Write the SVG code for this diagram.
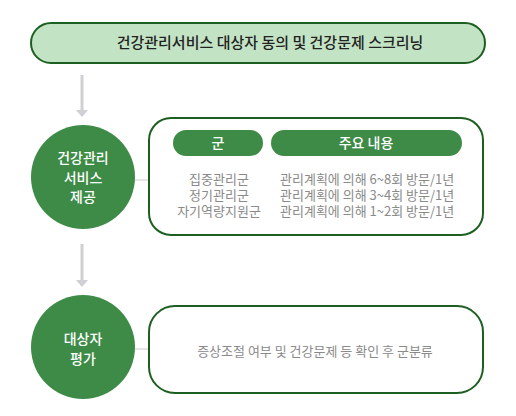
<svg xmlns="http://www.w3.org/2000/svg" width="516" height="416" viewBox="0 0 516 416">
<defs>
<style>
.k{font-family:"Noto Sans CJK KR","Noto Sans",sans-serif}
.pill{fill:#c2e4c4;stroke:#1d5f21;stroke-width:2}
.box{fill:#fff;stroke:#1d5f21;stroke-width:2}
.circ{fill:#3e8b47}
.hdr{fill:#3e8b47}
.wt{fill:#fff;font-size:14px;font-weight:500;text-anchor:middle}
.gt{fill:#8a8a8a;font-size:13px}
.arr{stroke:#cfcfd4;stroke-width:3;fill:none}
.ln{stroke:#cccccc;stroke-width:1;fill:none}
</style>
</defs>
<rect width="516" height="416" fill="#fff"/>
<g id="top">
<rect class="pill" x="31" y="23" width="454" height="40" rx="20"/>
<text class="k" x="270" y="48" font-size="15" font-weight="500" fill="#222" text-anchor="middle">건강관리서비스 대상자 동의 및 건강문제 스크리닝</text>
</g>
<g id="connectors">
<line class="arr" x1="82" y1="75" x2="82" y2="111"/>
<polygon points="76,110 88,110 82,117" fill="#cfcfd4"/>
<line class="arr" x1="82" y1="244" x2="82" y2="281"/>
<polygon points="76,280 88,280 82,287" fill="#cfcfd4"/>
<line class="ln" x1="135" y1="180" x2="149" y2="180"/>
<line class="ln" x1="135" y1="349" x2="149" y2="349"/>
</g>
<g id="c1">
<circle class="circ" cx="83" cy="177" r="52"/>
<text class="k wt" x="83" y="163">건강관리</text>
<text class="k wt" x="83" y="183">서비스</text>
<text class="k wt" x="83" y="202">제공</text>
</g>
<g id="b1">
<rect class="box" x="149" y="118" width="334" height="117" rx="22"/>
<rect class="hdr" x="173" y="130" width="90" height="26" rx="13"/>
<rect class="hdr" x="271" y="130" width="191" height="26" rx="13"/>
<text class="k wt" x="218" y="148">군</text>
<text class="k wt" x="366" y="148">주요 내용</text>
<text class="k gt" x="219" y="184" text-anchor="middle">집중관리군</text>
<text class="k gt" x="219" y="200" text-anchor="middle">정기관리군</text>
<text class="k gt" x="219" y="216" text-anchor="middle">자기역량지원군</text>
<text class="k gt" x="280" y="184">관리계획에 의해 6~8회 방문/1년</text>
<text class="k gt" x="280" y="200">관리계획에 의해 3~4회 방문/1년</text>
<text class="k gt" x="280" y="216">관리계획에 의해 1~2회 방문/1년</text>
</g>
<g id="c2">
<circle class="circ" cx="83" cy="347" r="52"/>
<text class="k wt" x="83" y="344">대상자</text>
<text class="k wt" x="83" y="364">평가</text>
</g>
<g id="b2">
<rect class="box" x="149" y="306" width="334" height="87" rx="26"/>
<text class="k gt" x="315" y="356" text-anchor="middle">증상조절 여부 및 건강문제 등 확인 후 군분류</text>
</g>
</svg>
